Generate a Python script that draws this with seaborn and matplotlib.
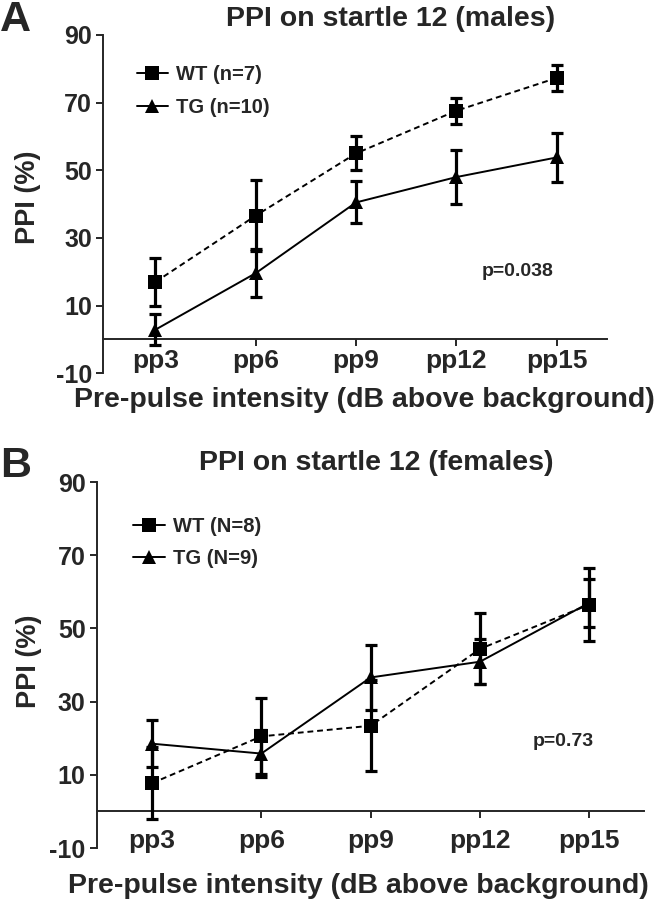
import numpy as np
import pandas as pd
import matplotlib
matplotlib.use("Agg")
import matplotlib.pyplot as plt
from matplotlib.lines import Line2D
import seaborn as sns

# ---------------- data ----------------
categories = ["pp3", "pp6", "pp9", "pp12", "pp15"]
y_ticks = [-10, 10, 30, 50, 70, 90]

# Panel A (males)
a_wt_mean = [17.0, 36.6, 55.0, 67.6, 77.3]
a_wt_sem = [7.0, 10.5, 5.0, 3.9, 3.9]
a_tg_mean = [2.9, 19.6, 40.5, 48.0, 53.8]
a_tg_sem = [4.5, 7.1, 6.2, 8.1, 7.3]
a_labels = ["WT (n=7)", "TG (n=10)"]
a_title = "PPI on startle 12 (males)"
a_p = "p=0.038"

# Panel B (females)
b_wt_mean = [7.7, 20.5, 23.4, 44.4, 56.5]
b_wt_sem = [9.8, 10.4, 12.4, 9.7, 10.0]
b_tg_mean = [18.5, 15.8, 36.6, 40.9, 57.0]
b_tg_sem = [6.4, 6.5, 8.9, 6.2, 6.5]
b_labels = ["WT (N=8)", "TG (N=9)"]
b_title = "PPI on startle 12 (females)"
b_p = "p=0.73"

xlabel = "Pre-pulse intensity (dB above background)"
ylabel = "PPI (%)"

sns.set_style("ticks")
plt.rcParams["font.family"] = ["Liberation Sans", "DejaVu Sans"]
plt.rcParams["font.weight"] = "bold"
plt.rcParams["axes.unicode_minus"] = False

fig = plt.figure(figsize=(6.72, 8.99), dpi=100)
W, H = 672, 899


def add_ax(left, right, top, bottom):
    return fig.add_axes([left / W, 1 - bottom / H, (right - left) / W, (bottom - top) / H])


def fy(px):
    return 1 - px / H


def draw_panel(ax, wt_mean, wt_sem, tg_mean, tg_sem, labels, xlim, p_text, p_xy,
               leg_anchor, xpad):
    x = np.arange(len(categories))
    df = pd.DataFrame({
        "pos": np.concatenate([x, x]),
        "PPI": np.concatenate([wt_mean, tg_mean]),
        "group": ["WT"] * len(x) + ["TG"] * len(x),
    })
    ekw = dict(fmt="none", ecolor="black", elinewidth=2.3, capsize=4.3, capthick=2.3,
               zorder=3, clip_on=False)
    ax.errorbar(x, wt_mean, yerr=wt_sem, **ekw)
    ax.errorbar(x, tg_mean, yerr=tg_sem, **ekw)
    sns.lineplot(data=df, x="pos", y="PPI", style="group", hue="group",
                 palette={"WT": "black", "TG": "black"},
                 markers={"WT": "s", "TG": "^"},
                 dashes={"WT": (3, 2), "TG": ""},
                 markersize=10, linewidth=1.4, markeredgewidth=0,
                 legend=False, ax=ax, zorder=4, clip_on=False)
    for ln in ax.lines:
        if ln.get_marker() == "s":
            ln.set_markersize(10.5)
        elif ln.get_marker() == "^":
            ln.set_markersize(9.5)

    ax.set_xlim(*xlim)
    ax.set_ylim(-10, 90)
    ax.set_yticks(y_ticks)
    ax.set_xticks(x)
    ax.set_xticklabels(categories)
    ax.set_xlabel("")
    ax.set_ylabel("")
    ax.spines["top"].set_visible(False)
    ax.spines["right"].set_visible(False)
    ax.spines["bottom"].set_position(("data", 0))
    for s in ("left", "bottom"):
        ax.spines[s].set_linewidth(1.4)
    ax.tick_params(axis="y", width=1.4, length=5, labelsize=18, pad=3)
    ax.tick_params(axis="x", width=1.4, length=5, labelsize=19, pad=xpad)
    for t in ax.get_xticklabels() + ax.get_yticklabels():
        t.set_fontweight("bold")

    ax.text(p_xy[0], p_xy[1], p_text, fontsize=14, fontweight="bold", ha="center", va="center")

    handles = [
        Line2D([], [], color="black", marker="s", markersize=10.5, linewidth=1.4, markeredgewidth=0),
        Line2D([], [], color="black", marker="^", markersize=9.5, linewidth=1.4, markeredgewidth=0),
    ]
    ax.legend(handles, labels, loc="upper left", bbox_to_anchor=leg_anchor, frameon=False,
              handlelength=1.55, handletextpad=0.4, labelspacing=0.68, borderpad=0,
              borderaxespad=0, prop={"size": 14.5, "weight": "bold"})


axA = add_ax(103.3, 606.7, 35, 373.3)
draw_panel(axA, a_wt_mean, a_wt_sem, a_tg_mean, a_tg_sem, a_labels,
           (-0.52, 4.5), a_p, (3.61, 20.0), (0.066, 0.91), 2)

axB = add_ax(96.7, 644.3, 482, 848)
draw_panel(axB, b_wt_mean, b_wt_sem, b_tg_mean, b_tg_sem, b_labels,
           (-0.506, 4.503), b_p, (3.76, 19.0), (0.067, 0.905), 8)

# axis labels
fig.text(364 / W, fy(407), xlabel, fontsize=20.5, fontweight="bold", ha="center", va="baseline")
fig.text(358 / W, fy(893), xlabel, fontsize=20.5, fontweight="bold", ha="center", va="baseline")
fig.text(28 / W, fy(197), ylabel, fontsize=19.5, fontweight="bold", ha="center", va="center",
         rotation=90)
fig.text(28.5 / W, fy(661.5), ylabel, fontsize=19.5, fontweight="bold", ha="center", va="center",
         rotation=90)

# titles and panel letters
fig.text(391 / W, fy(26), a_title, fontsize=20.5, fontweight="bold", ha="center", va="baseline")
fig.text(376 / W, fy(470), b_title, fontsize=20.5, fontweight="bold", ha="center", va="baseline")
fig.text(0, fy(31), "A", fontsize=31, fontweight="bold", ha="left", va="baseline")
fig.text(0, fy(477), "B", fontsize=31, fontweight="bold", ha="left", va="baseline")

fig.savefig("out.png", dpi=100)
